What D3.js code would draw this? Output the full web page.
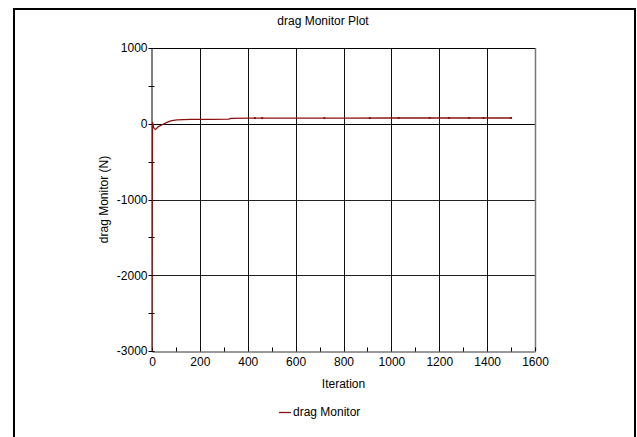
<!DOCTYPE html>
<html lang="en">
<head>
<meta charset="utf-8">
<script src="https://cdn.jsdelivr.net/npm/d3@7"></script>
<style>
    body { margin: 0; background: #fff; }
    svg { display: block; font-family: "Liberation Sans", Arial, sans-serif; }
</style>
</head>
<body>
<div id="chart"></div>
<script>
    // drag monitor samples (iteration, N)
    const iterations = [0, 2, 6, 10, 14, 20, 26, 35, 45, 60, 75, 90, 105, 130, 160, 200, 250, 320, 330, 400, 600, 800, 1000, 1200, 1400, 1500];
    const dragValues = [-3000, 20, -40, -65, -75, -60, -40, -25, -10, 15, 35, 45, 52, 55, 57, 58, 59, 60, 72, 74, 75, 75, 76, 76, 76, 76];
    // iterations carrying the small point markers
    const markerIters = [430, 460, 720, 910, 1030, 1160, 1240, 1325, 1385, 1500];

    const xTicks = [0, 200, 400, 600, 800, 1000, 1200, 1400, 1600];
    const xMinor = d3.range(0, 1601, 100);
    const yTicks = [-3000, -2000, -1000, 0, 1000];
    const yMinor = d3.range(-3000, 1001, 500);

    const W = 637, H = 437;
    const plot = {left: 152, right: 535, top: 48, bottom: 351};
    const lineColor = '#8b1111';
    const fmt = d => String(d);

    const svg = d3.select('#chart').append('svg')
        .attr('width', W).attr('height', H);

    // outer frame
    svg.append('rect')
        .attr('x', 14).attr('y', 9)
        .attr('width', 621).attr('height', 440)
        .attr('fill', 'none').attr('stroke', '#000').attr('stroke-width', 2);

    const x = d3.scaleLinear().domain([0, 1600]).range([plot.left, plot.right]);
    const y = d3.scaleLinear().domain([-3000, 1000]).range([plot.bottom, plot.top]);

    // grid
    svg.append('g').selectAll('line').data(xTicks.slice(1))
        .join('line')
        .attr('x1', d => Math.round(x(d)) + 0.5).attr('x2', d => Math.round(x(d)) + 0.5)
        .attr('y1', plot.top).attr('y2', plot.bottom)
        .attr('stroke', '#111').attr('stroke-width', 1);
    svg.append('g').selectAll('line').data(yTicks.slice(1))
        .join('line')
        .attr('x1', plot.left).attr('x2', plot.right)
        .attr('y1', d => Math.round(y(d)) + 0.5).attr('y2', d => Math.round(y(d)) + 0.5)
        .attr('stroke', d => d === 0 ? '#000' : '#222').attr('stroke-width', 1);

    // right edge of plot
    svg.append('line')
        .attr('x1', plot.right + 0.5).attr('x2', plot.right + 0.5)
        .attr('y1', plot.top).attr('y2', plot.bottom)
        .attr('stroke', '#777').attr('stroke-width', 1.5);

    // axes
    const xAxis = d3.axisBottom(x).tickValues(xTicks).tickFormat(fmt).tickSize(0).tickPadding(6);
    const gx = svg.append('g').attr('transform', `translate(0,${plot.bottom + 0.5})`).call(xAxis);
    gx.select('.domain').attr('stroke', '#333');
    gx.selectAll('text').attr('font-size', 12).attr('fill', '#000')
        .attr('font-family', '"Liberation Sans", Arial, sans-serif');
    gx.selectAll('.minor').data(xMinor).join('line')
        .attr('class', 'minor')
        .attr('x1', d => Math.round(x(d)) + 0.5).attr('x2', d => Math.round(x(d)) + 0.5)
        .attr('y1', -4).attr('y2', 0)
        .attr('stroke', '#000');

    const yAxis = d3.axisLeft(y).tickValues(yTicks).tickFormat(fmt).tickSize(0).tickPadding(4);
    const gy = svg.append('g').attr('transform', `translate(${plot.left - 0.5},0)`).call(yAxis);
    gy.select('.domain').attr('stroke', '#000');
    gy.selectAll('text').attr('font-size', 12).attr('fill', '#000')
        .attr('font-family', '"Liberation Sans", Arial, sans-serif');
    gy.selectAll('.minor').data(yMinor).join('line')
        .attr('class', 'minor')
        .attr('x1', -3).attr('x2', 3)
        .attr('y1', d => Math.round(y(d)) + 0.5).attr('y2', d => Math.round(y(d)) + 0.5)
        .attr('stroke', '#000');

    // top edge
    svg.append('line')
        .attr('x1', plot.left).attr('x2', plot.right)
        .attr('y1', plot.top + 0.5).attr('y2', plot.top + 0.5)
        .attr('stroke', '#000');

    // data line
    const data = iterations.map((it, i) => ({it, v: dragValues[i]}));
    svg.append('defs').append('clipPath').attr('id', 'clip')
        .append('rect').attr('x', plot.left).attr('y', plot.top)
        .attr('width', plot.right - plot.left).attr('height', plot.bottom - plot.top);

    const line = d3.line().x(d => x(d.it)).y(d => y(d.v));
    svg.append('path')
        .datum(data)
        .attr('clip-path', 'url(#clip)')
        .attr('d', line)
        .attr('fill', 'none')
        .attr('stroke', lineColor)
        .attr('stroke-width', 1.3);

    const valueAt = it => {
        const i = d3.bisector(d => d.it).left(data, it);
        if (i <= 0) return data[0].v;
        if (i >= data.length) return data[data.length - 1].v;
        return data[i].v;
    };
    svg.append('g').selectAll('rect').data(markerIters)
        .join('rect')
        .attr('x', d => x(d) - 1).attr('y', d => y(valueAt(d)) - 1)
        .attr('width', 2).attr('height', 2)
        .attr('fill', lineColor);

    // titles
    svg.append('text')
        .attr('x', 323).attr('y', 25)
        .attr('text-anchor', 'middle').attr('font-size', 12)
        .text('drag Monitor Plot');
    svg.append('text')
        .attr('x', (plot.left + plot.right) / 2).attr('y', 388)
        .attr('text-anchor', 'middle').attr('font-size', 12)
        .text('Iteration');
    svg.append('text')
        .attr('transform', `translate(108,${(plot.top + plot.bottom) / 2}) rotate(-90)`)
        .attr('text-anchor', 'middle').attr('font-size', 12)
        .text('drag Monitor (N)');

    // legend
    const lg = svg.append('g').attr('transform', 'translate(279,412)');
    lg.append('line').attr('x1', 0).attr('x2', 12).attr('y1', 0.5).attr('y2', 0.5)
        .attr('stroke', lineColor).attr('stroke-width', 1.3);
    lg.append('text').attr('x', 14).attr('y', 4).attr('font-size', 12).text('drag Monitor');
</script>
</body>
</html>
